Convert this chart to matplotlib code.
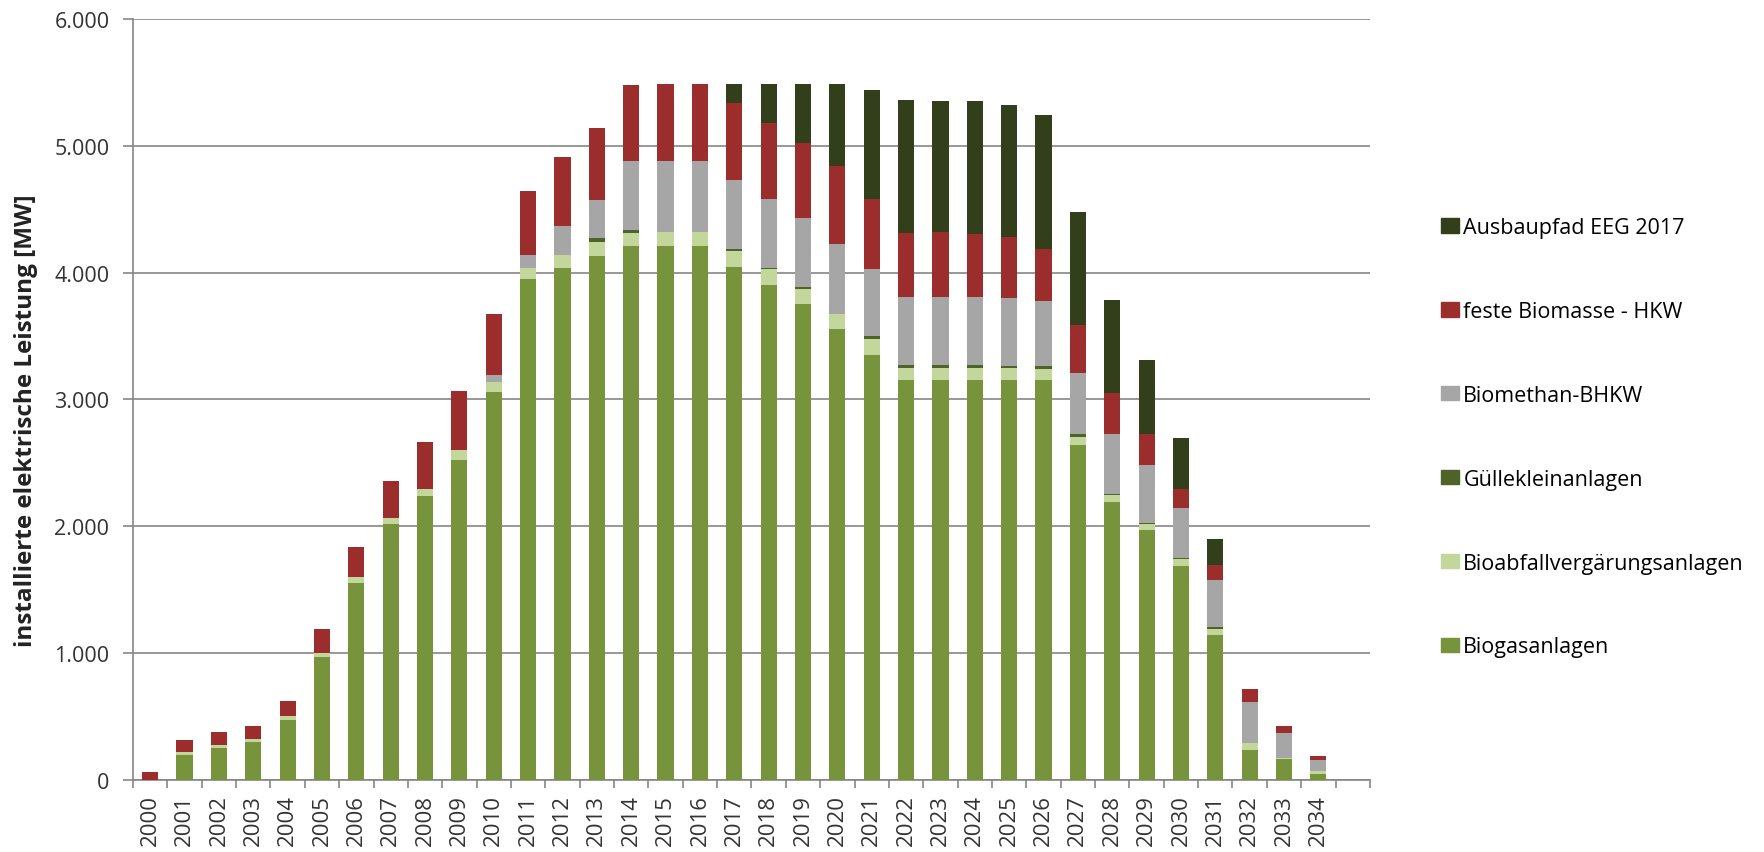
import numpy as np
import matplotlib.pyplot as plt
from matplotlib.patches import Patch
from matplotlib.ticker import FuncFormatter, MultipleLocator

plt.rcParams['font.family'] = ['Open Sans', 'DejaVu Sans']

years = [str(y) for y in range(2000, 2035)]

# values in MW
biogas = [0, 197, 249, 296, 476, 969, 1557, 2020, 2243, 2526,
          3062, 3949, 4035, 4134, 4207, 4207, 4207, 4048, 3906, 3756,
          3559, 3353, 3156, 3156, 3156, 3156, 3156, 2641, 2191, 1968,
          1690, 1141, 240, 163, 47]
bioabfall = [0, 22, 25, 26, 26, 30, 42, 47, 55, 73,
             73, 86, 103, 111, 107, 110, 110, 120, 120, 116,
             112, 120, 94, 94, 94, 94, 86, 65, 55, 51,
             52, 52, 52, 13, 22]
guelle = [0, 0, 0, 0, 0, 0, 0, 0, 0, 0,
          0, 0, 0, 26, 21, 5, 5, 17, 13, 13,
          0, 26, 22, 22, 22, 16, 22, 21, 9, 9,
          8, 12, 0, 0, 0]
biomethan = [0, 0, 0, 0, 0, 0, 0, 0, 0, 0,
             55, 107, 227, 300, 545, 560, 560, 549, 541, 545,
             557, 532, 536, 536, 536, 533, 514, 485, 472, 455,
             398, 373, 325, 193, 85]
feste = [60, 94, 108, 107, 124, 193, 236, 291, 365, 467,
         481, 502, 545, 570, 600, 604, 604, 600, 600, 591,
         609, 549, 506, 511, 498, 485, 407, 373, 322, 244,
         150, 120, 103, 56, 35]
ausbau = [0, 0, 0, 0, 0, 0, 0, 0, 0, 0,
          0, 0, 0, 0, 0, 0, 0, 150, 304, 463,
          647, 857, 1046, 1035, 1048, 1037, 1059, 892, 737, 588,
          395, 202, 0, 0, 0]

series = [
    ('Biogasanlagen', biogas, '#77933c'),
    ('Bioabfallvergärungsanlagen', bioabfall, '#c3d69b'),
    ('Güllekleinanlagen', guelle, '#4f6228'),
    ('Biomethan-BHKW', biomethan, '#a6a6a6'),
    ('feste Biomasse - HKW', feste, '#9b2d2d'),
    ('Ausbaupfad EEG 2017', ausbau, '#333f1b'),
]

fig = plt.figure(figsize=(17.64, 8.53), dpi=100)
ax = fig.add_axes([0.0754, 0.0844, 0.7012, 0.8922])

x = np.arange(len(years))
bottom = np.zeros(len(years))
for name, vals, col in series:
    vals = np.array(vals, dtype=float)
    ax.bar(x, vals, 0.47, bottom=bottom, color=col, label=name, zorder=3)
    bottom += vals

# one empty slot after the last year, like the original
ax.set_xlim(-0.5, len(years) + 0.5)
ax.set_ylim(0, 6000)
ax.yaxis.set_major_locator(MultipleLocator(1000))
ax.yaxis.set_major_formatter(FuncFormatter(lambda v, p: f'{int(v):,}'.replace(',', '.')))
ax.grid(axis='y', color='#868686', linewidth=1.2, zorder=0)

ax.set_xticks(x)
ax.set_xticklabels(years, rotation=90, fontsize=16, color='#333333')
ax.set_xticks(np.arange(-0.5, len(years) + 1), minor=True)
ax.tick_params(axis='x', which='major', length=0, pad=10)
ax.tick_params(axis='x', which='minor', length=6, width=1.2, color='#868686')
ax.tick_params(axis='y', length=7, width=1.2, color='#868686', labelsize=15.5,
               labelcolor='#333333', pad=10)

for s in ['top', 'right']:
    ax.spines[s].set_visible(False)
for s in ['left', 'bottom']:
    ax.spines[s].set_color('#868686')
    ax.spines[s].set_linewidth(1.2)

ax.set_ylabel('installierte elektrische Leistung [MW]', fontsize=17.5,
              fontweight='bold', color='#222222')
ax.yaxis.set_label_coords(-0.077, 0.473)

handles = [Patch(color=col, label=name) for name, vals, col in series][::-1]
fig.legend(handles=handles, loc='upper left', bbox_to_anchor=(0.806, 0.767),
           frameon=False, handlelength=0.85, handleheight=0.65,
           handletextpad=0.18, labelspacing=2.92, prop={'size': 15.5})

plt.savefig('out.png', dpi=100)
